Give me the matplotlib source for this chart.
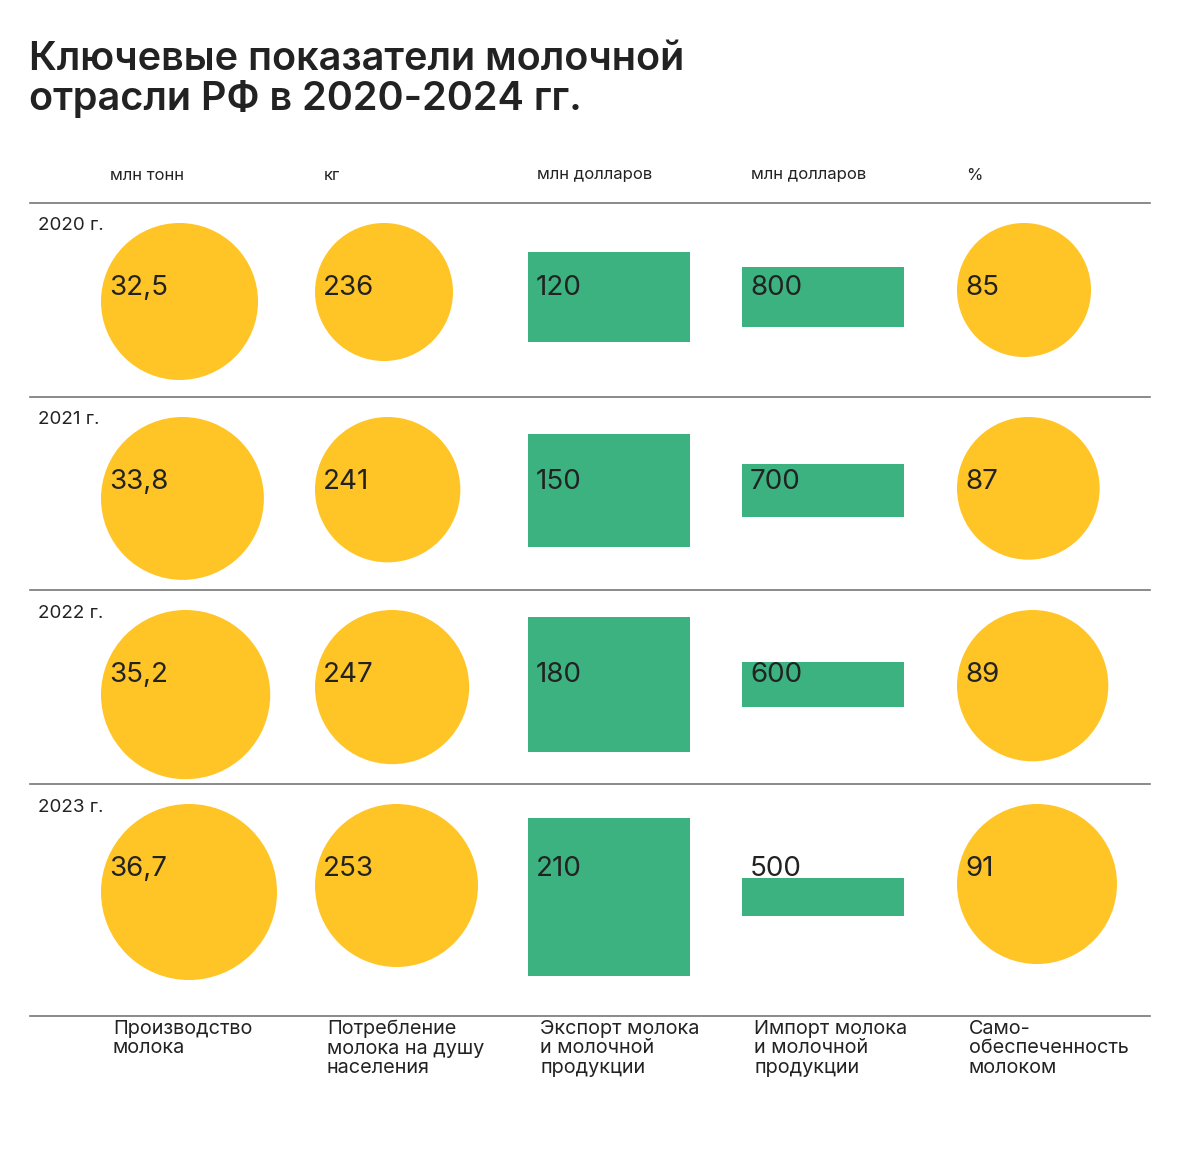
import numpy as np
import matplotlib.pyplot as plt
from matplotlib.patches import Circle, Rectangle

# data
years = ['2020 г.', '2021 г.', '2022 г.', '2023 г.']
production = [32.5, 33.8, 35.2, 36.7]
consumption = [236, 241, 247, 253]
export = [120, 150, 180, 210]
imports = [800, 700, 600, 500]
self_suff = [85, 87, 89, 91]

units = ['млн тонн', 'кг', 'млн долларов', 'млн долларов', '%']
names = ['Производство\nмолока',
         'Потребление\nмолока на душу\nнаселения',
         'Экспорт молока\nи молочной\nпродукции',
         'Импорт молока\nи молочной\nпродукции',
         'Само-\nобеспеченность\nмолоком']
labels = [
    ['32,5', '33,8', '35,2', '36,7'],
    ['236', '241', '247', '253'],
    ['120', '150', '180', '210'],
    ['800', '700', '600', '500'],
    ['85', '87', '89', '91'],
]

YELLOW = '#FFC425'
GREEN = '#3BB280'
TEXT = '#222222'
LINE = '#777777'
FONT = ['Inter', 'DejaVu Sans']

# layout in pixels
W, H = 1200, 1174
col_x = [101, 315, 528, 742, 957]
row_lines = [203, 397, 590, 784, 1016]
rect_w = 162

# size scales (value -> diameter / height in px)
circle_scales = {
    0: ([32.5, 36.7], [157, 176]),
    1: ([236, 253], [138, 163]),
    4: ([85, 91], [134, 160]),
}
export_k = 0.75
import_k = 0.075

fig = plt.figure(figsize=(W / 100, H / 100), dpi=100)
ax = fig.add_axes([0, 0, 1, 1])
ax.set_xlim(0, W)
ax.set_ylim(H, 0)
ax.set_aspect('equal')
ax.axis('off')

# title
ax.text(29, 70, 'Ключевые показатели молочной', fontsize=28.5, fontweight='semibold',
        color=TEXT, family=FONT, va='baseline')
ax.text(29, 110, 'отрасли РФ в 2020-2024 гг.', fontsize=28.5, fontweight='semibold',
        color=TEXT, family=FONT, va='baseline')

# units
for x, u in zip(col_x, units):
    ax.text(x + 9, 175, u, fontsize=12, color=TEXT, family=FONT, va='center')

# horizontal lines
for y in row_lines:
    ax.plot([30, 1150], [y, y], color=LINE, lw=1.2)

series = [production, consumption, export, imports, self_suff]
for r in range(len(years)):
    top = row_lines[r]
    mid = (row_lines[r] + row_lines[r + 1]) / 2
    ax.text(38, top + 23, years[r], fontsize=13.5, color=TEXT, family=FONT, va='center')
    for c, vals in enumerate(series):
        v = vals[r]
        x0 = col_x[c]
        if c in circle_scales:
            dom, rng = circle_scales[c]
            d = np.interp(v, dom, rng)
            ax.add_patch(Circle((x0 + d / 2, top + 20 + d / 2), d / 2,
                                facecolor=YELLOW, edgecolor='none'))
        else:
            h = v * (export_k if c == 2 else import_k)
            ax.add_patch(Rectangle((x0, mid - 3 - h / 2), rect_w, h,
                                   facecolor=GREEN, edgecolor='none'))
        ax.text(x0 + 8, top + 85, labels[c][r], fontsize=20, color=TEXT,
                family=FONT, va='center', zorder=5)

# bottom names
for x, n in zip(col_x, names):
    ax.text(x + 12, 1020, n, fontsize=14.3, color=TEXT, family=FONT, va='top',
            linespacing=1.1)

fig.savefig('out.png', dpi=100, facecolor='white')
